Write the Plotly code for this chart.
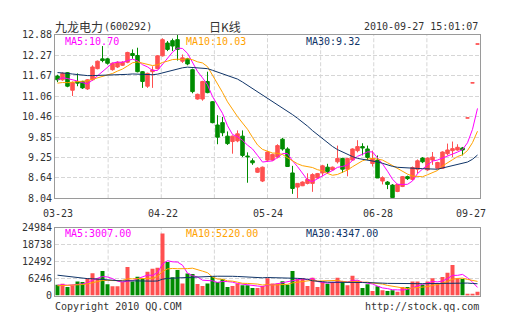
import pandas as pd
import plotly.graph_objects as go

# ---- daily K-line data for 九龙电力 (600292) ----
dates = [
    "2010-03-23", "2010-03-24", "2010-03-25", "2010-03-26", "2010-03-29", "2010-03-30", "2010-03-31",
    "2010-04-01", "2010-04-02", "2010-04-06", "2010-04-07", "2010-04-08", "2010-04-09",
    "2010-04-12", "2010-04-13", "2010-04-14", "2010-04-15", "2010-04-16",
    "2010-04-19", "2010-04-20", "2010-04-21", "2010-04-22", "2010-04-23",
    "2010-04-26", "2010-04-27", "2010-04-28", "2010-04-29", "2010-04-30",
    "2010-05-04", "2010-05-05", "2010-05-06", "2010-05-07",
    "2010-05-10", "2010-05-11", "2010-05-12", "2010-05-13", "2010-05-14",
    "2010-05-17", "2010-05-18", "2010-05-19", "2010-05-20", "2010-05-21",
    "2010-05-24", "2010-05-25", "2010-05-26", "2010-05-27", "2010-05-28",
    "2010-05-31", "2010-06-01", "2010-06-02", "2010-06-03", "2010-06-04",
    "2010-06-07", "2010-06-08", "2010-06-09", "2010-06-10", "2010-06-11",
    "2010-06-17", "2010-06-18", "2010-06-21", "2010-06-22", "2010-06-23", "2010-06-24", "2010-06-25",
    "2010-06-28", "2010-06-29", "2010-06-30", "2010-07-01", "2010-07-02",
    "2010-07-05", "2010-07-06", "2010-07-07", "2010-07-08", "2010-07-09",
    "2010-07-12", "2010-07-13", "2010-07-14", "2010-07-15", "2010-07-16",
    "2010-07-19", "2010-07-20", "2010-07-21", "2010-09-20", "2010-09-21", "2010-09-27",
]

opens = [
    11.66, 11.55, 11.76, 11.24, 11.50, 11.50, 11.28, 11.55, 11.88, 12.17,
    12.17, 11.85, 11.93, 11.98, 12.07, 12.33, 12.27, 11.79, 11.36, 11.79,
    11.88, 12.26, 12.64, 12.71, 12.74, 12.10, 12.17, 11.85, 10.98, 10.98,
    11.50, 10.90, 10.21, 10.28, 9.88, 9.72, 9.74, 9.88, 9.29, 9.15,
    8.81, 8.55, 9.17, 9.17, 9.26, 9.79, 9.50, 8.79, 8.37, 8.41,
    8.48, 8.48, 8.64, 8.79, 8.96, 8.88, 9.12, 9.22, 8.90, 9.17,
    9.45, 9.57, 9.50, 9.07, 9.17, 8.55, 8.52, 8.43, 8.24, 8.39,
    8.68, 8.60, 8.90, 9.23, 8.88, 9.17, 8.93, 8.93, 9.36, 9.45,
    9.47, 9.53, 10.42, 11.46, 12.61,
]
highs = [
    11.70, 11.77, 11.78, 11.50, 11.74, 11.52, 11.57, 11.98, 12.12, 12.55,
    12.20, 12.06, 12.10, 12.10, 12.38, 12.45, 12.50, 11.81, 11.76, 11.95,
    12.28, 12.78, 12.70, 12.77, 12.88, 12.30, 12.20, 11.88, 11.14, 11.52,
    11.79, 10.92, 10.50, 10.45, 10.02, 9.90, 10.05, 10.05, 9.40, 9.22,
    8.96, 8.98, 9.45, 9.36, 9.64, 9.83, 9.55, 9.00, 8.48, 8.54,
    8.78, 8.78, 8.79, 9.03, 9.06, 8.98, 9.60, 9.24, 9.24, 9.52,
    9.76, 9.67, 9.60, 9.45, 9.31, 8.69, 8.55, 8.46, 8.47, 8.70,
    8.71, 8.98, 9.19, 9.26, 9.25, 9.41, 9.12, 9.43, 9.66, 9.72,
    9.64, 9.56, 10.42, 11.46, 12.61,
]
lows = [
    11.48, 11.52, 11.33, 11.07, 11.36, 11.28, 11.25, 11.52, 11.86, 12.07,
    12.00, 11.82, 11.90, 11.96, 12.04, 12.17, 11.77, 11.31, 11.31, 11.31,
    11.86, 12.24, 12.40, 12.40, 12.12, 12.05, 11.98, 11.15, 10.96, 10.93,
    11.15, 10.26, 9.64, 9.88, 9.62, 9.36, 9.70, 9.26, 8.50, 9.03,
    8.79, 8.52, 9.12, 9.15, 9.22, 9.45, 8.98, 8.17, 8.04, 8.40,
    8.45, 8.23, 8.62, 8.69, 8.77, 8.86, 9.07, 8.79, 8.69, 9.15,
    9.40, 9.31, 9.17, 8.98, 8.64, 8.45, 8.31, 8.04, 8.22, 8.37,
    8.58, 8.57, 8.77, 9.08, 8.85, 9.03, 8.91, 8.91, 9.31, 9.26,
    9.45, 9.31, 10.42, 11.46, 12.61,
]
closes = [
    11.55, 11.74, 11.36, 11.47, 11.45, 11.31, 11.55, 11.93, 12.10, 12.12,
    12.04, 12.04, 12.07, 12.07, 12.36, 12.27, 11.79, 11.50, 11.74, 11.84,
    12.26, 12.74, 12.45, 12.55, 12.45, 12.20, 12.02, 11.20, 11.12, 11.50,
    11.17, 10.28, 9.85, 9.98, 9.66, 9.88, 9.95, 9.31, 9.27, 9.09,
    8.93, 8.96, 9.41, 9.34, 9.60, 9.50, 8.98, 8.33, 8.48, 8.52,
    8.60, 8.74, 8.77, 9.00, 8.83, 8.96, 9.22, 8.90, 9.22, 9.50,
    9.57, 9.53, 9.25, 9.22, 8.64, 8.65, 8.45, 8.06, 8.45, 8.68,
    8.62, 8.95, 9.15, 9.12, 9.23, 9.26, 9.10, 9.41, 9.47, 9.51,
    9.55, 9.47, 10.42, 11.46, 12.61,
]
volumes = [
    4000, 4360, 3180, 3770, 5180, 4950, 6360, 8250, 6360, 9070,
    4120, 3420, 3420, 4950, 10480, 5180, 6950, 6360, 8720, 9900,
    10250, 22850, 12370, 6710, 9420, 4480, 8130, 7890, 4240, 3530,
    4480, 6950, 4950, 6130, 3180, 3530, 4360, 3770, 3770, 2830,
    2830, 3530, 6360, 4480, 4480, 5300, 4000, 9070, 6130, 6360,
    3530, 6600, 3180, 5180, 4360, 4950, 6600, 5180, 3770, 7300,
    5420, 2830, 4120, 1650, 3420, 2000, 1650, 2000, 1410, 3180,
    3180, 5180, 5180, 4000, 5190, 6360, 4360, 6845, 8400, 11200,
    6360, 6130, 590, 590, 1365,
]

# sessions before the first date shown; they only feed the moving averages
prior_closes = [
    11.90, 11.95, 12.02, 11.98, 11.88, 11.85, 11.92, 12.00, 12.05, 11.96,
    11.90, 11.86, 11.94, 11.98, 11.92, 11.88, 11.95, 11.90, 11.82, 11.76,
    11.55, 11.40, 11.28, 11.22, 11.30, 11.42, 11.50, 11.62, 11.66,
]
prior_volumes = [
    12000, 9800, 11500, 8900, 10200, 13400, 9600, 10800, 9300, 9500,
    8800, 7600, 9900, 8200, 7400, 9100, 8600, 7800, 8300, 8300,
    3600, 3100, 3900, 3200, 3200, 3500, 4100, 3600, 3800,
]

price_ticks = [8.04, 8.64, 9.25, 9.85, 10.46, 11.06, 11.67, 12.27, 12.88]
volume_ticks = [0, 6246, 12492, 18738, 24984]
date_ticks = ["2010-03-23", "2010-04-22", "2010-05-24", "2010-06-28", "2010-09-27"]
ma_periods = [5, 10, 30]

# ---- styling ----
W, H = 505, 330
RED, GREEN = "#FF5050", "#008C00"
MA_COLORS = {5: "#FF00FF", 10: "#FFA200", 30: "#0F3468"}
GRID = "#D6D6D6"
FRAME = "#9A9A9A"
TEXT = "#333333"
MONO = "DejaVu Sans Mono"
CJK = "Noto Sans CJK SC"

# plot boxes in pixels (left, right, top, bottom)
X0, X1 = 55, 480
P_TOP, P_BOT = 30, 199.5
V_TOP, V_BOT = 230, 300.5


def px_x(x):
    return x / W


def px_y(y):
    return 1 - y / H


def moving_average(history, values, n):
    s = pd.Series(list(history) + list(values), dtype=float)
    return s.rolling(n).mean().iloc[len(history):].tolist()


price_ma = {n: moving_average(prior_closes, closes, n) for n in ma_periods}
volume_ma = {n: moving_average(prior_volumes, volumes, n) for n in ma_periods}

# bar colour follows the candle direction (flat candles compare with the previous close)
up = []
prev = None
for o, c in zip(opens, closes):
    if c != o:
        up.append(c > o)
    elif prev is not None and c != prev:
        up.append(c > prev)
    else:
        up.append(up[-1] if up else True)
    prev = c
bar_colors = [RED if u else GREEN for u in up]

fig = go.Figure()

fig.add_trace(go.Candlestick(
    x=dates, open=opens, high=highs, low=lows, close=closes,
    increasing=dict(line=dict(color=RED, width=1), fillcolor=RED),
    decreasing=dict(line=dict(color=GREEN, width=1), fillcolor=GREEN),
    whiskerwidth=0, xaxis="x", yaxis="y", showlegend=False, hoverinfo="skip",
))
for n in ma_periods:
    fig.add_trace(go.Scatter(
        x=dates, y=price_ma[n], mode="lines", line=dict(color=MA_COLORS[n], width=1),
        xaxis="x", yaxis="y", showlegend=False, hoverinfo="skip",
    ))

fig.add_trace(go.Bar(
    x=dates, y=volumes, marker=dict(color=bar_colors, line=dict(width=0)),
    xaxis="x2", yaxis="y2", showlegend=False, hoverinfo="skip",
))
for n in ma_periods:
    fig.add_trace(go.Scatter(
        x=dates, y=volume_ma[n], mode="lines", line=dict(color=MA_COLORS[n], width=1),
        xaxis="x2", yaxis="y2", showlegend=False, hoverinfo="skip",
    ))

x_domain = [px_x(X0), px_x(X1)]
common_x = dict(
    domain=x_domain, type="category", range=[-0.5, len(dates) - 0.5],
    showticklabels=False, ticks="", showgrid=False, zeroline=False,
    showline=True, mirror=True, linecolor=FRAME, linewidth=1, fixedrange=True,
)
common_y = dict(
    showgrid=True, gridcolor=GRID, griddash="4px,2px", gridwidth=1, zeroline=False,
    showline=True, mirror=True, linecolor=FRAME, linewidth=1, ticks="",
    tickfont=dict(family=MONO, size=10, color=TEXT), fixedrange=True,
)

fig.update_layout(
    width=W, height=H, margin=dict(l=0, r=0, t=0, b=0),
    paper_bgcolor="white", plot_bgcolor="white",
    hovermode=False, boxgap=0.3, boxgroupgap=0, bargap=0.2,
    xaxis=dict(**common_x, anchor="y", rangeslider=dict(visible=False)),
    xaxis2=dict(**common_x, anchor="y2"),
    yaxis=dict(**common_y, domain=[px_y(P_BOT), px_y(P_TOP)], range=[price_ticks[0], price_ticks[-1]],
               tickvals=price_ticks, ticktext=[f"{v:.2f}" for v in price_ticks], anchor="x"),
    yaxis2=dict(**common_y, domain=[px_y(V_BOT), px_y(V_TOP)], range=[volume_ticks[0], volume_ticks[-1]],
                tickvals=volume_ticks, ticktext=[str(v) for v in volume_ticks], anchor="x2"),
)

# vertical dashed grid: eight equal divisions in each panel
shapes = []
for xr, yr in (("x domain", "y domain"), ("x2 domain", "y2 domain")):
    for k in range(1, 8):
        shapes.append(dict(type="line", xref=xr, yref=yr, x0=k / 8, x1=k / 8, y0=0, y1=1,
                           line=dict(color=GRID, width=1, dash="4px,2px"), layer="below"))
fig.update_layout(shapes=shapes)

ann = []


def text(x, y, s, color=TEXT, size=10, family=MONO, anchor="left", **kw):
    ann.append(dict(xref="paper", yref="paper", x=px_x(x), y=px_y(y), text=s, showarrow=False,
                    xanchor=anchor, yanchor="middle", font=dict(family=family, size=size, color=color),
                    borderpad=0, **kw))


# header
text(54, 21.5, "九龙电力", size=12, family=CJK)
text(103, 21.5, "(600292)")
text(225, 21.5, "日K线", size=12, family=CJK, anchor="center")
text(479, 21.5, "2010-09-27 15:01:07", anchor="right")

# moving average readouts
label_x = {5: 64, 10: 184.5, 30: 305}
for n in ma_periods:
    text(label_x[n], 37, f"MA{n}:{price_ma[n][-1]:.2f}", color=MA_COLORS[n])
    text(label_x[n], 236.5, f"MA{n}:{volume_ma[n][-1]:.2f}", color=MA_COLORS[n])

# date labels under the price panel
for d in date_ticks:
    shift = -7 if d == dates[-1] else 0
    ann.append(dict(xref="x", yref="paper", x=d, y=px_y(215), text=d[5:], showarrow=False,
                    xanchor="center", yanchor="middle", xshift=shift,
                    font=dict(family=MONO, size=10, color=TEXT)))

# footer
text(54, 311.5, "Copyright 2010 QQ.COM")
text(480, 311.5, "http://stock.qq.com", anchor="right")

fig.update_layout(annotations=ann)

fig.write_html("out.html")
